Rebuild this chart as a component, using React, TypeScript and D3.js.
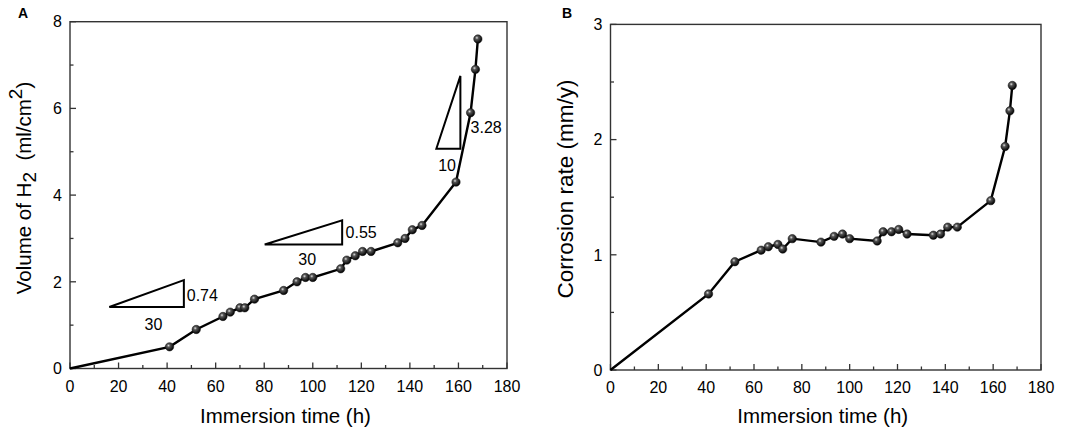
import React from 'react';
import * as d3 from 'd3';

// immersion times (h), shared by both panels
const hours = [0, 41, 52, 63, 66, 70, 72, 76, 88, 93.5, 97, 100, 111.5, 114, 117.5, 120.5, 124, 135, 138, 141, 145, 159, 165, 167, 168];
const volumeH2 = [0, 0.5, 0.9, 1.2, 1.3, 1.4, 1.4, 1.6, 1.8, 2.0, 2.1, 2.1, 2.3, 2.5, 2.6, 2.7, 2.7, 2.9, 3.0, 3.2, 3.3, 4.3, 5.9, 6.9, 7.6];
const corrosionRate = [0, 0.66, 0.94, 1.04, 1.07, 1.09, 1.05, 1.14, 1.11, 1.16, 1.18, 1.14, 1.12, 1.2, 1.2, 1.22, 1.18, 1.17, 1.18, 1.24, 1.24, 1.47, 1.94, 2.25, 2.47];

const xTicks = [0, 20, 40, 60, 80, 100, 120, 140, 160, 180];
const xMinor = [10, 30, 50, 70, 90, 110, 130, 150, 170];
const yTicksA = [0, 2, 4, 6, 8];
const yMinorA = [1, 3, 5, 7];
const yTicksB = [0, 1, 2, 3];
const yMinorB = [0.5, 1.5, 2.5];

// slope triangles in panel A: [x0, y0, x1, y1]
const slopeTriangles = [
  [16.2, 1.42, 46.9, 2.04],
  [80.2, 2.86, 112.1, 3.42],
  [150.9, 5.07, 160.8, 6.75],
];
const slopeLabels = [
  { text: '0.74', x: 48.1, y: 1.68, anchor: 'start' },
  { text: '30', x: 34.4, y: 1.03, anchor: 'middle' },
  { text: '0.55', x: 113.5, y: 3.14, anchor: 'start' },
  { text: '30', x: 97.7, y: 2.52, anchor: 'middle' },
  { text: '10', x: 155.3, y: 4.7, anchor: 'middle' },
  { text: '3.28', x: 165, y: 5.57, anchor: 'start' },
];

const font = 'Arial, "Liberation Sans", Helvetica, sans-serif';

interface PanelProps {
  left: number; right: number; top: number; bottom: number;
  yMax: number; values: number[];
  yTicks: number[]; yMinor: number[];
  letter: string; letterX: number;
  yTitle: React.ReactNode; yTitleX: number; yTitleY: number; yTitleSize: number;
  children?: (x: d3.ScaleLinear<number, number>, y: d3.ScaleLinear<number, number>) => React.ReactNode;
}

const Panel = (p: PanelProps) => {
  const x = d3.scaleLinear().domain([0, 180]).range([p.left, p.right]);
  const y = d3.scaleLinear().domain([0, p.yMax]).range([p.bottom, p.top]);
  const pts = hours.map((h, i) => [h, p.values[i]] as [number, number]);
  const line = d3.line<[number, number]>().x(d => x(d[0])).y(d => y(d[1]));

  return (
    <g fontFamily={font}>
      <text x={p.letterX} y={18} fontSize={14} fontWeight="bold">{p.letter}</text>
      <rect x={p.left} y={p.top} width={p.right - p.left} height={p.bottom - p.top}
        fill="none" stroke="#333" strokeWidth={1.4} />
      {xTicks.map(t => (
        <g key={'xt' + t}>
          <line x1={x(t)} x2={x(t)} y1={p.bottom} y2={p.bottom - 6} stroke="#333" strokeWidth={1.3} />
          <text x={x(t)} y={p.bottom + 23} fontSize={16} textAnchor="middle">{t}</text>
        </g>
      ))}
      {xMinor.map(t => (
        <line key={'xm' + t} x1={x(t)} x2={x(t)} y1={p.bottom} y2={p.bottom - 3.5} stroke="#333" strokeWidth={1.3} />
      ))}
      {p.yTicks.map(t => (
        <g key={'yt' + t}>
          <line x1={p.left} x2={p.left + 6} y1={y(t)} y2={y(t)} stroke="#333" strokeWidth={1.3} />
          <text x={p.left - 8} y={y(t)} dy="0.36em" fontSize={16} textAnchor="end">{t}</text>
        </g>
      ))}
      {p.yMinor.map(t => (
        <line key={'ym' + t} x1={p.left} x2={p.left + 3.5} y1={y(t)} y2={y(t)} stroke="#333" strokeWidth={1.3} />
      ))}
      <text x={(p.left + p.right) / 2 - 3} y={423} fontSize={20.5} textAnchor="middle">Immersion time (h)</text>
      <text transform={`translate(${p.yTitleX},${p.yTitleY}) rotate(-90)`} fontSize={p.yTitleSize} textAnchor="middle">
        {p.yTitle}
      </text>
      {p.children && p.children(x, y)}
      <path d={line(pts) || ''} fill="none" stroke="#000" strokeWidth={2.4} />
      {pts.slice(1).map((d, i) => (
        <circle key={i} cx={x(d[0])} cy={y(d[1])} r={4.2} fill="url(#ball)" stroke="#111" strokeWidth={0.5} />
      ))}
    </g>
  );
};

export default function App() {
  return (
    <svg width={1084} height={436} style={{ position: 'absolute', left: 0, top: 0, background: '#fff' }}>
      <defs>
        <radialGradient id="ball" cx="38%" cy="35%" r="65%">
          <stop offset="0%" stopColor="#e0e0e0" />
          <stop offset="30%" stopColor="#555" />
          <stop offset="100%" stopColor="#000" />
        </radialGradient>
      </defs>
      <Panel left={70} right={507} top={21.7} bottom={368.5} yMax={8} values={volumeH2}
        yTicks={yTicksA} yMinor={yMinorA} letter="A" letterX={18}
        yTitleX={31} yTitleY={188} yTitleSize={20.5}
        yTitle={<>Volume of H<tspan fontSize={19} dy={5}>2</tspan><tspan dy={-5}>{'\u00a0 (ml/cm'}</tspan><tspan fontSize={19} dy={-9}>2</tspan><tspan dy={9}>)</tspan></>}>
        {(x, y) => (
          <g>
            {slopeTriangles.map((t, i) => (
              <polygon key={i}
                points={`${x(t[0])},${y(t[1])} ${x(t[2])},${y(t[1])} ${x(t[2])},${y(t[3])}`}
                fill="none" stroke="#000" strokeWidth={2} />
            ))}
            {slopeLabels.map((l, i) => (
              <text key={i} x={x(l.x)} y={y(l.y)} dy="0.36em" fontSize={16} textAnchor={l.anchor}>{l.text}</text>
            ))}
          </g>
        )}
      </Panel>
      <Panel left={610.5} right={1041} top={24.4} bottom={370} yMax={3} values={corrosionRate}
        yTicks={yTicksB} yMinor={yMinorB} letter="B" letterX={562}
        yTitleX={573} yTitleY={189} yTitleSize={22.5}
        yTitle="Corrosion rate (mm/y)" />
    </svg>
  );
}
